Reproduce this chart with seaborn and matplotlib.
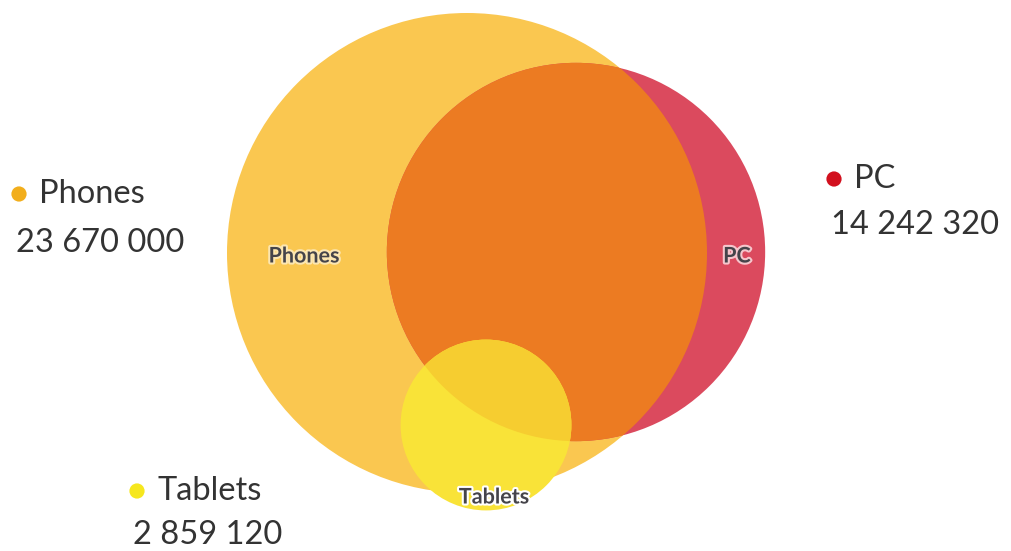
import numpy as np
import pandas as pd
import matplotlib.pyplot as plt
import matplotlib.patheffects as pe
from matplotlib.patches import Circle
import seaborn as sns

# Venn data
categories = ['Phones', 'PC', 'Tablets']
values = [23670000, 14242320, 2859120]
value_labels = ['23 670 000', '14 242 320', '2 859 120']

# Colours of the regions
colors = {'Phones': '#FAC750', 'PC': '#DB4A5E', 'Tablets': '#F9E338'}
overlap_phones_pc = '#EC7B22'
overlap_all = '#F6CD30'
dot_colors = ['#F2AE1C', '#D2101E', '#F6E71E']

sns.set_theme(style='white')
plt.rcParams['font.family'] = ['Lato', 'DejaVu Sans']

fig = plt.figure(figsize=(10.11, 5.51), dpi=100)
ax = fig.add_axes([0, 0, 1, 1])
ax.set_xlim(0, 1011)
ax.set_ylim(551, 0)
ax.set_aspect('equal')
ax.axis('off')

# circle layout (radius follows sqrt of value)
scale = 240 / np.sqrt(values[0])
radii = [scale * np.sqrt(v) for v in values]
radii[1] += 3
radii[2] += 2
centers = [(467, 253), (576, 252), (486, 425)]

phones = Circle(centers[0], radii[0], color=colors['Phones'], lw=0, zorder=1)
ax.add_patch(phones)
pc = Circle(centers[1], radii[1], color=colors['PC'], lw=0, zorder=2)
ax.add_patch(pc)
pc_in = Circle(centers[1], radii[1], color=overlap_phones_pc, lw=0, zorder=3)
ax.add_patch(pc_in)
pc_in.set_clip_path(phones)
tab = Circle(centers[2], radii[2], color=colors['Tablets'], lw=0, zorder=4)
ax.add_patch(tab)
tab_in = Circle(centers[2], radii[2], color=overlap_all, lw=0, zorder=5)
ax.add_patch(tab_in)
tab_in.set_clip_path(pc)

# labels inside the circles
strokes = ['#FCE6B0', '#F6C6CC', '#FFFFFF']
inner_pos = [(304, 256), (737, 256), (494, 497)]
for name, (x, y), sc in zip(categories, inner_pos, strokes):
    ax.text(x, y, name, ha='center', va='center', fontsize=15.5, fontweight='bold',
            color='#45444A', path_effects=[pe.withStroke(linewidth=3, foreground=sc)],
            zorder=10)

# legend-like labels outside
legend = pd.DataFrame({
    'cat': categories,
    'x': [19, 834, 137],
    'y': [194, 179, 491],
})
sns.scatterplot(data=legend, x='x', y='y', hue='cat', palette=dot_colors,
                s=120, linewidth=0, legend=False, ax=ax, zorder=10)
value_pos = [(16, 243), (831, 225), (133, 535)]
for i, name in enumerate(categories):
    ax.text(legend['x'][i] + 20, legend['y'][i], name, ha='left', va='center',
            fontsize=23.5, color='#333333')
    ax.text(value_pos[i][0], value_pos[i][1], value_labels[i], ha='left', va='center',
            fontsize=23.5, color='#333333')

ax.set_xlim(0, 1011)
ax.set_ylim(551, 0)
fig.savefig('out.png', dpi=100)
